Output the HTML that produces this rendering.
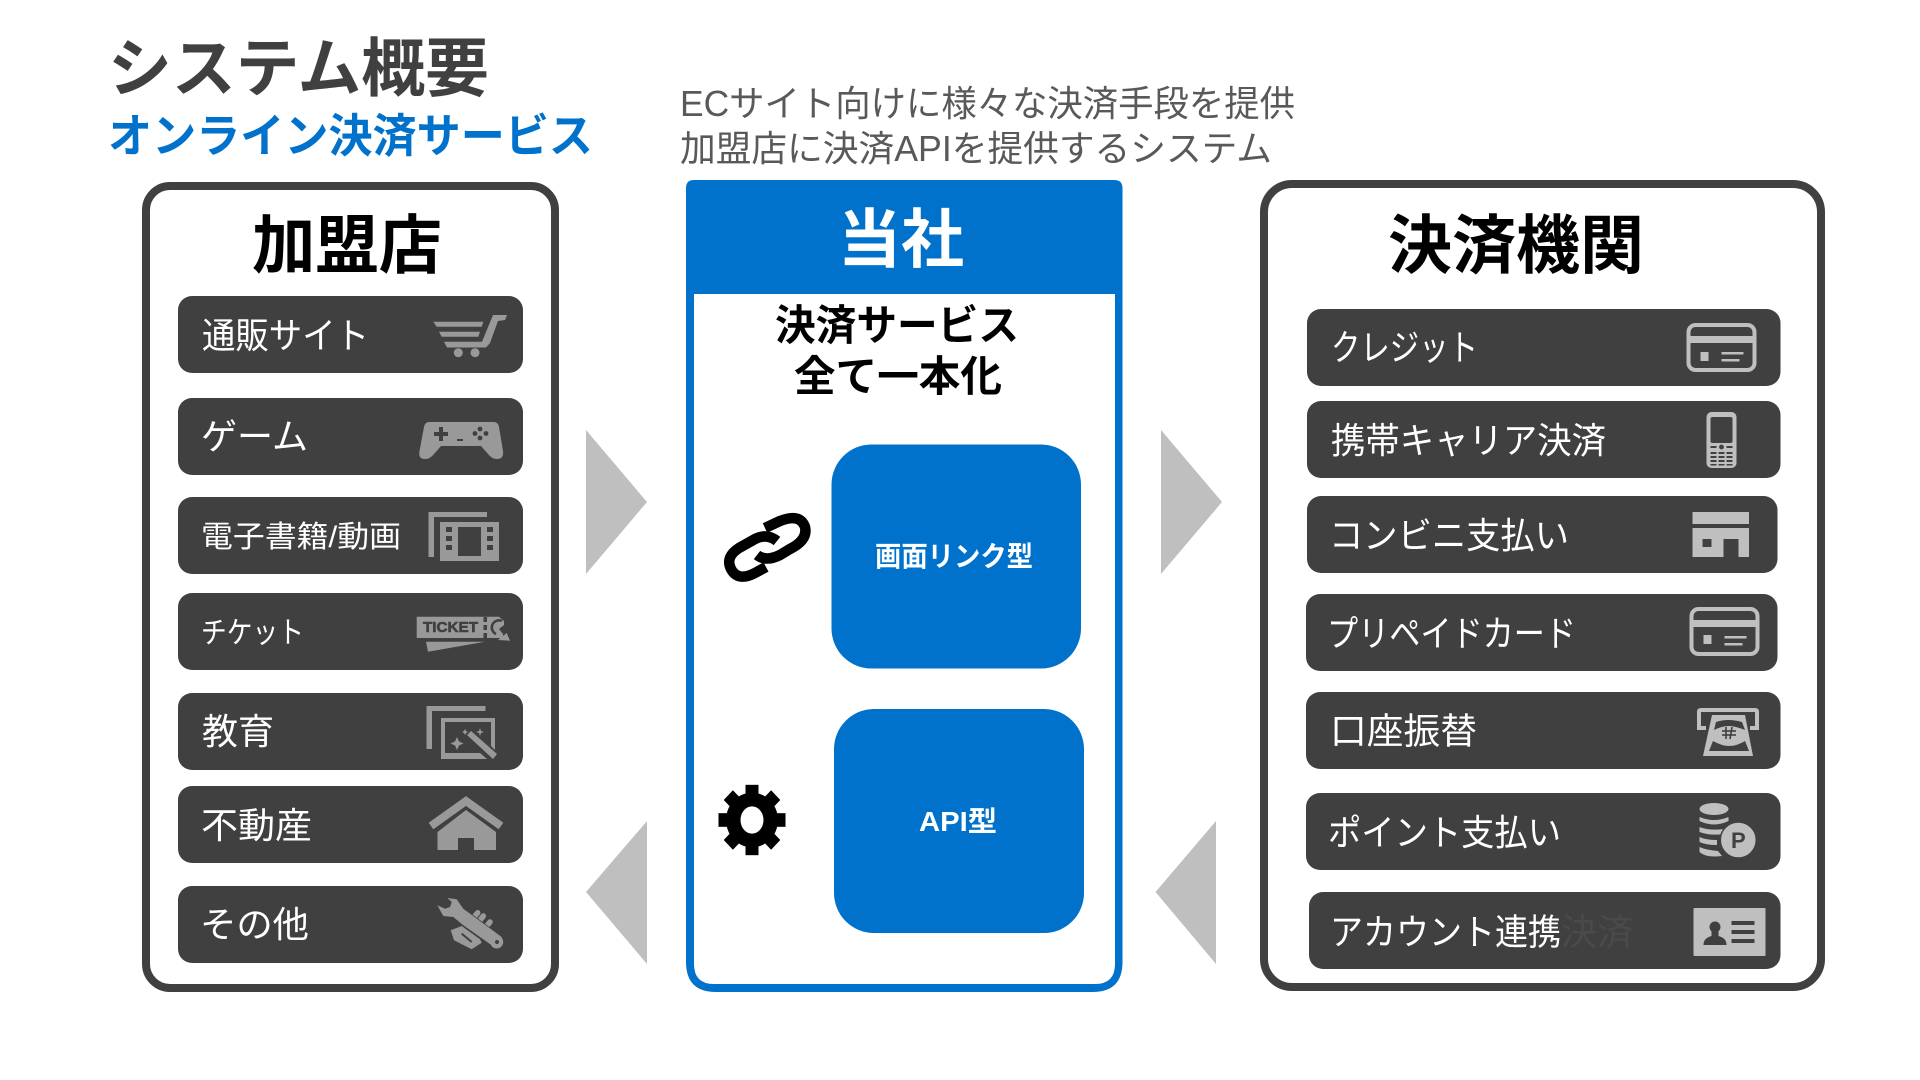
<!DOCTYPE html>
<html lang="ja"><head><meta charset="utf-8"><title>システム概要</title>
<style>
html,body{margin:0;padding:0;background:#fff;width:1920px;height:1080px;overflow:hidden}
svg{display:block}
text{font-family:"Liberation Sans","Noto Sans CJK JP",sans-serif}
.b{font-weight:700}
</style></head><body>
<svg width="1920" height="1080" viewBox="0 0 1920 1080" xmlns="http://www.w3.org/2000/svg">
<rect width="1920" height="1080" fill="#fff"/>

<!-- titles -->
<text class="b" x="108" y="91" font-size="64" fill="#404040" textLength="381" lengthAdjust="spacingAndGlyphs">システム概要</text>
<text class="b" x="108" y="152" font-size="46" fill="#0072CC" textLength="485" lengthAdjust="spacingAndGlyphs">オンライン決済サービス</text>
<text x="680" y="116" font-size="36" fill="#595959" textLength="615" lengthAdjust="spacingAndGlyphs">ECサイト向けに様々な決済手段を提供</text>
<text x="680" y="161" font-size="36" fill="#595959" textLength="592" lengthAdjust="spacingAndGlyphs">加盟店に決済APIを提供するシステム</text>

<!-- left panel -->
<rect x="146" y="186" width="409" height="802" rx="24" fill="#fff" stroke="#404040" stroke-width="8"/>
<text class="b" x="252" y="268" font-size="64" fill="#000" textLength="190" lengthAdjust="spacingAndGlyphs">加盟店</text>
<g fill="#404040">
<rect x="178" y="296" width="345" height="77" rx="14"/>
<rect x="178" y="398" width="345" height="77" rx="14"/>
<rect x="178" y="497" width="345" height="77" rx="14"/>
<rect x="178" y="593" width="345" height="77" rx="14"/>
<rect x="178" y="693" width="345" height="77" rx="14"/>
<rect x="178" y="786" width="345" height="77" rx="14"/>
<rect x="178" y="886" width="345" height="77" rx="14"/>
</g>
<g fill="#fff">
<text x="202" y="348" font-size="36" textLength="167" lengthAdjust="spacingAndGlyphs">通販サイト</text>
<text x="201" y="449" font-size="36" textLength="107" lengthAdjust="spacingAndGlyphs">ゲーム</text>
<text x="201" y="547" font-size="30" textLength="200" lengthAdjust="spacingAndGlyphs">電子書籍/動画</text>
<text x="201" y="643" font-size="30" textLength="103" lengthAdjust="spacingAndGlyphs">チケット</text>
<text x="202" y="744" font-size="36" textLength="72" lengthAdjust="spacingAndGlyphs">教育</text>
<text x="201" y="838" font-size="36" textLength="111" lengthAdjust="spacingAndGlyphs">不動産</text>
<text x="200" y="937" font-size="36" textLength="109" lengthAdjust="spacingAndGlyphs">その他</text>
</g>

<!-- left icons -->
<g fill="#999">
  <!-- cart -->
  <polygon points="433.3,321.7 483.3,321.7 481.7,326.7 436.7,326.7"/>
  <polygon points="439,331.7 480,331.7 478.3,336.7 441.7,336.7"/>
  <polygon points="493,315 507,315 505,320 498,321 490,343 486,347.5 447,347.5 444,341.7 482,341.7"/>
  <circle cx="458.3" cy="352.7" r="4.5"/><circle cx="475" cy="352.7" r="4.5"/>
  <!-- gamepad -->
  <path d="M429 422H494Q498 422 499 427L503 451Q504 459 497 459Q492 459 488 454L481 446H441L434 454Q430 459 425 459Q418 459 419.5 451L424 427Q425 422 429 422Z"/>
  <!-- film -->
  <rect x="428.5" y="512" width="58.5" height="5"/><rect x="428.5" y="512" width="5.5" height="45"/>
  <rect x="440" y="522" width="59" height="39"/>
  <!-- ticket -->
  <polygon points="416.7,616.7 499,616.7 504,621 504,625 499,629 503,634 503,638 416.7,638"/>
  <polygon points="426,641.7 485,641.7 428,651.7"/>
  <polygon points="498,640 506.7,633 510,640.7"/>
  <!-- magic -->
  <rect x="426.5" y="706" width="59" height="5"/><rect x="426.5" y="706" width="5.5" height="43"/>
  <path d="M441 718H495V750L491 746V722H445V753H480L487 759H441Z" />
  <polygon points="467,735 471,731 497,754 493,759"/>
  <polygon points="457,737 459,741.5 463.5,743.5 459,745.5 457,750 455,745.5 450.5,743.5 455,741.5"/>
  <polygon points="480,728 481,731 484,732 481,733 480,736 479,733 476,732 479,731"/>
  <polygon points="465,729 466,731 468,732 466,733 465,735 464,733 462,732 464,731"/>
  <!-- house -->
  <polyline points="431,826 466,801 501,826" fill="none" stroke="#999" stroke-width="8"/>
  <polygon points="466,810 496,832 496,850 474,850 474,838 458,838 458,850 437.5,850 437.5,832"/>
  <!-- tools: fist and fingers -->
  <polygon points="450.7,930.3 461.7,926 480,939.3 481.7,942.7 471.7,949.3 454,940.3"/>
  <g stroke="#999" stroke-width="5.5" stroke-linecap="round">
    <line x1="477.7" y1="912.7" x2="473.3" y2="918"/><line x1="483.3" y1="916" x2="478.3" y2="922.7"/><line x1="490" y1="922" x2="485" y2="928"/>
  </g>
  <!-- tools: wrench -->
  <path d="M447.3 898L456.7 899.3L463.3 908.7L501.7 937L491.7 945.3L463.3 925.3L453.3 917L443.3 916L437.3 905.3L445 908.7L450 907L451.7 902Z" stroke="#404040" stroke-width="1.5" paint-order="stroke"/>
  <circle cx="496.7" cy="942" r="6.5"/>
</g>
<circle cx="497" cy="942" r="2" fill="#404040"/>
<line x1="461.7" y1="933.7" x2="471.7" y2="942" stroke="#404040" stroke-width="2"/>
<g fill="#404040">
  <!-- gamepad details -->
  <rect x="434" y="432" width="14" height="4"/><rect x="439" y="427" width="4" height="14"/>
  <rect x="457" y="439" width="6" height="2"/>
  <circle cx="480" cy="429" r="2.4"/><circle cx="480" cy="438" r="2.4"/><circle cx="475" cy="433.5" r="2.4"/><circle cx="486" cy="433.5" r="2.4"/>
  <!-- film details -->
  <rect x="458" y="527" width="23" height="29"/>
  <rect x="446" y="527" width="6" height="5"/><rect x="446" y="536" width="6" height="5"/><rect x="446" y="545" width="6" height="5"/>
  <rect x="487" y="527" width="6" height="5"/><rect x="487" y="536" width="6" height="5"/><rect x="487" y="545" width="6" height="5"/>
  <!-- ticket perforation -->
  <rect x="483.5" y="617" width="3.5" height="5"/><rect x="483.5" y="625" width="3.5" height="5"/><rect x="483.5" y="633" width="3.5" height="5"/>
</g>
<path d="M502 621A7 7 0 0 0 496 634" fill="none" stroke="#404040" stroke-width="2.6"/>
<text class="b" x="423" y="632" font-size="15" fill="#404040" stroke="#404040" stroke-width=".6" textLength="55" lengthAdjust="spacingAndGlyphs">TICKET</text>

<!-- arrows -->
<g fill="#BFBFBF">
<polygon points="586,430 647,502 586,574"/>
<polygon points="647,821 586,892 647,964"/>
<polygon points="1161,430 1222,502 1161,574"/>
<polygon points="1216,821 1155.5,892 1216,964"/>
</g>

<!-- center panel -->
<path d="M694 180H1114Q1122.5 180 1122.5 188V962Q1122.5 992 1092.5 992H716Q686 992 686 962V188Q686 180 694 180Z" fill="#0072CC"/>
<path d="M694 294H1115V964Q1115 984 1095 984H714Q694 984 694 964Z" fill="#fff"/>
<text class="b" x="838" y="262" font-size="64" fill="#fff" textLength="126" lengthAdjust="spacingAndGlyphs">当社</text>
<text class="b" x="775" y="340" font-size="42" fill="#000" textLength="244" lengthAdjust="spacingAndGlyphs">決済サービス</text>
<text class="b" x="794" y="391" font-size="42" fill="#000" textLength="208" lengthAdjust="spacingAndGlyphs">全て一本化</text>
<rect x="831.5" y="444.5" width="249.5" height="224" rx="40" fill="#0072CC"/>
<rect x="834" y="709" width="250" height="224" rx="40" fill="#0072CC"/>
<text class="b" x="875" y="566" font-size="28" fill="#fff" textLength="158" lengthAdjust="spacingAndGlyphs">画面リンク型</text>
<text class="b" x="919" y="831" font-size="28" fill="#fff" textLength="78" lengthAdjust="spacingAndGlyphs">API型</text>

<!-- link icon -->
<g fill="none" stroke="#000" stroke-width="10.5">
  <path d="M765 528L780 521Q800 513 805 527Q808 540 790 549L780 555Q766 562 757 555"/>
  <path d="M777 541Q767 533 755 539L739 548Q725 557 731 569Q738 582 755 573L766 567"/>
</g>
<!-- gear -->
<g transform="translate(752 820) scale(1 1.05)" fill="#000">
  <circle r="26"/>
  <rect x="-6.5" y="-33.5" width="13" height="67"/>
  <rect x="-6.5" y="-33.5" width="13" height="67" transform="rotate(45)"/>
  <rect x="-6.5" y="-33.5" width="13" height="67" transform="rotate(90)"/>
  <rect x="-6.5" y="-33.5" width="13" height="67" transform="rotate(135)"/>
  <ellipse rx="11.5" ry="13" fill="#fff"/>
</g>

<!-- right panel -->
<rect x="1264" y="184" width="557" height="803" rx="28" fill="#fff" stroke="#404040" stroke-width="8"/>
<text class="b" x="1388" y="268" font-size="64" fill="#000" textLength="256" lengthAdjust="spacingAndGlyphs">決済機関</text>
<g fill="#404040">
<rect x="1307" y="309" width="473.5" height="77" rx="14"/>
<rect x="1307" y="401" width="473.5" height="77" rx="14"/>
<rect x="1307" y="496" width="470.5" height="77" rx="14"/>
<rect x="1306" y="594" width="471.5" height="77" rx="14"/>
<rect x="1306" y="692" width="474.5" height="77" rx="14"/>
<rect x="1306" y="793" width="474.5" height="77" rx="14"/>
<rect x="1309" y="892" width="471.5" height="77" rx="14"/>
</g>
<g fill="#fff">
<text x="1331" y="360" font-size="36" textLength="147" lengthAdjust="spacingAndGlyphs">クレジット</text>
<text x="1331" y="453" font-size="36" textLength="275" lengthAdjust="spacingAndGlyphs">携帯キャリア決済</text>
<text x="1329" y="548" font-size="36" textLength="240" lengthAdjust="spacingAndGlyphs">コンビニ支払い</text>
<text x="1327" y="646" font-size="36" textLength="249" lengthAdjust="spacingAndGlyphs">プリペイドカード</text>
<text x="1330" y="743.5" font-size="36" textLength="147" lengthAdjust="spacingAndGlyphs">口座振替</text>
<text x="1328" y="845" font-size="36" textLength="233" lengthAdjust="spacingAndGlyphs">ポイント支払い</text>
<text x="1330" y="944.5" font-size="36" textLength="231" lengthAdjust="spacingAndGlyphs">アカウント連携</text>
</g>
<text x="1561" y="944.5" font-size="36" fill="#4A4A4A" textLength="72" lengthAdjust="spacingAndGlyphs">決済</text>

<!-- right icons -->
<g transform="translate(-2.5 0)">
<g fill="#BFBFBF">
  <!-- card 1 -->
  <rect x="1691" y="325" width="66" height="45" rx="7" fill="none" stroke="#BFBFBF" stroke-width="4"/>
  <rect x="1690" y="336" width="68" height="7"/>
  <rect x="1703" y="352" width="8" height="9"/>
  <rect x="1724" y="352" width="22" height="2.5"/><rect x="1724" y="359" width="18" height="2.5"/>
  <!-- phone -->
  <rect x="1709" y="412" width="30" height="56" rx="5"/>
  <!-- shop -->
  <rect x="1695" y="512" width="56.5" height="12"/>
  <path d="M1695 528H1751.5V557H1741V539H1726V557H1695Z"/>
  <!-- card 2 -->
  <rect x="1694" y="609" width="66" height="45" rx="7" fill="none" stroke="#BFBFBF" stroke-width="4"/>
  <rect x="1693" y="620" width="68" height="7"/>
  <rect x="1706" y="635" width="8" height="9"/>
  <rect x="1727" y="636" width="22" height="2.5"/><rect x="1727" y="643" width="18" height="2.5"/>
  <!-- id -->
  <rect x="1696" y="908" width="72" height="48" rx="1"/>
</g>
<g fill="#404040">
  <!-- phone details -->
  <rect x="1713" y="417" width="22" height="26" rx="2"/>
  <circle cx="1724" cy="447" r="2.4"/>
  <rect x="1713" y="446" width="6" height="2"/><rect x="1729" y="446" width="6" height="2"/>
  <rect x="1713" y="452" width="6" height="2"/><rect x="1721" y="452" width="6" height="2"/><rect x="1729" y="452" width="6" height="2"/>
  <rect x="1713" y="456" width="6" height="2"/><rect x="1721" y="456" width="6" height="2"/><rect x="1729" y="456" width="6" height="2"/>
  <rect x="1713" y="460" width="6" height="2"/><rect x="1721" y="460" width="6" height="2"/><rect x="1729" y="460" width="6" height="2"/>
  <rect x="1713" y="464" width="6" height="1.5"/><rect x="1721" y="464" width="6" height="1.5"/><rect x="1729" y="464" width="6" height="1.5"/>
  <!-- shop window -->
  <rect x="1705" y="539" width="9" height="8"/>
  <!-- id details -->
  <circle cx="1717.5" cy="927" r="5.5"/>
  <path d="M1706 945Q1706 938 1714 936L1714 930H1721L1721 936Q1729 938 1729 945Z"/>
  <rect x="1734" y="921" width="23" height="4"/><rect x="1734" y="930" width="23" height="4"/><rect x="1734" y="939" width="23" height="4"/>
</g>
</g>

<!-- atm -->
<path d="M1706 728H1699V712Q1699 710 1701 710H1755Q1757 710 1757 712V728H1750" fill="none" stroke="#BFBFBF" stroke-width="4"/>
<polygon points="1712,715 1745,715 1753,756 1703,756" fill="#BFBFBF"/>
<g fill="#404040">
  <path d="M1716 722Q1728 718 1742 722L1745 730Q1735 726 1729 726Q1722 726 1714 730Z"/>
  <path d="M1713 741Q1722 746 1729 746Q1737 746 1745 741L1749 751H1709Z"/>
</g>
<g stroke="#404040" stroke-width="1.6">
  <line x1="1722" y1="731" x2="1736" y2="731"/><line x1="1722" y1="735" x2="1736" y2="735"/>
  <line x1="1726" y1="727" x2="1726" y2="739"/><line x1="1732" y1="727" x2="1730" y2="739"/>
</g>

<!-- coins -->
<g fill="#BFBFBF">
  <ellipse cx="1714" cy="809" rx="14.5" ry="6"/>
  <path d="M1699.5 817Q1714 823 1728.5 817V821Q1714 828 1699.5 821Z"/>
  <path d="M1699.5 827Q1710 831 1724 829V834Q1710 836 1699.5 832Z"/>
  <path d="M1699.5 837Q1706 840 1717 840V845Q1706 845 1699.5 842Z"/>
  <path d="M1699.5 847Q1706 850 1718 851L1722 856Q1706 858 1699.5 852Z"/>
</g>
<circle cx="1738.3" cy="840" r="18" fill="#BFBFBF" stroke="#404040" stroke-width="1.5"/>
<text class="b" x="1738.3" y="848" font-size="22" fill="#404040" text-anchor="middle">P</text>
</svg>
</body></html>
